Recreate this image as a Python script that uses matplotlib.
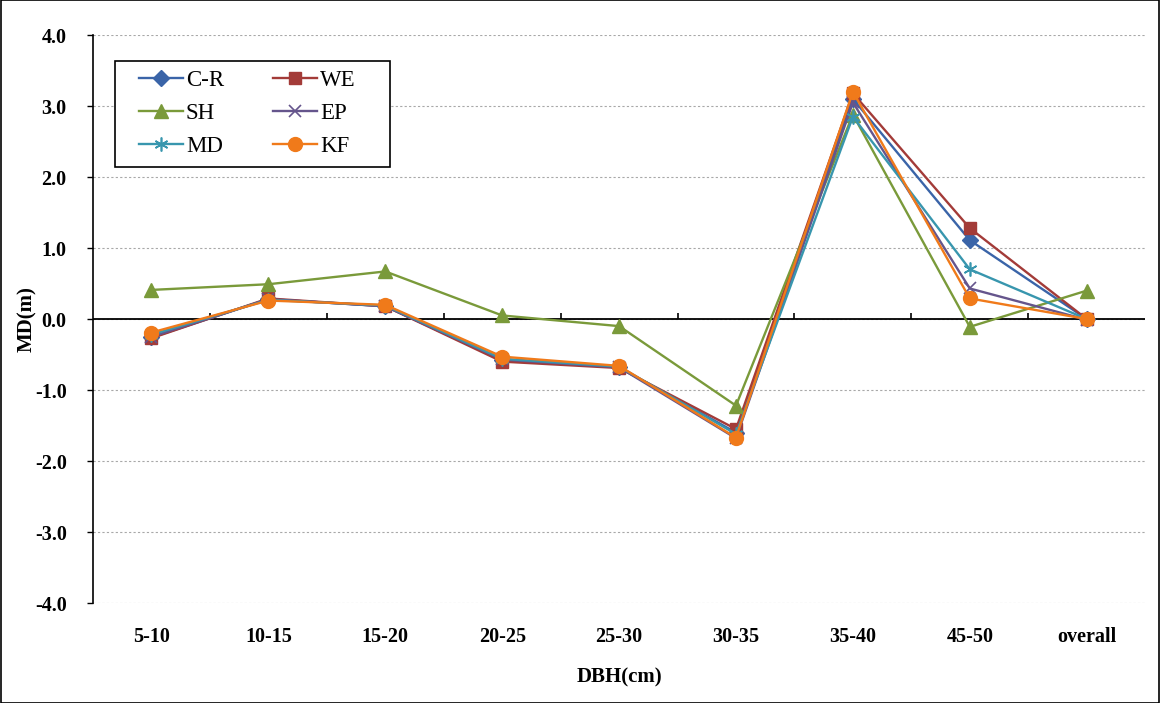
import matplotlib
matplotlib.use("Agg")
import matplotlib.pyplot as plt
from matplotlib.patches import Rectangle
import numpy as np

categories = ["5-10", "10-15", "15-20", "20-25", "25-30", "30-35", "35-40", "45-50", "overall"]
cr = [-0.26, 0.28, 0.18, -0.58, -0.68, -1.60, 3.10, 1.11, 0.0]
we = [-0.27, 0.29, 0.18, -0.60, -0.69, -1.55, 3.18, 1.28, 0.0]
sh = [0.41, 0.49, 0.67, 0.05, -0.10, -1.22, 2.88, -0.11, 0.40]
ep = [-0.25, 0.28, 0.18, -0.57, -0.68, -1.68, 3.05, 0.43, -0.01]
md = [-0.22, 0.27, 0.19, -0.56, -0.67, -1.62, 2.85, 0.70, 0.0]
kf = [-0.19, 0.26, 0.20, -0.53, -0.66, -1.67, 3.20, 0.29, 0.0]
yticks = [-4.0, -3.0, -2.0, -1.0, 0.0, 1.0, 2.0, 3.0, 4.0]

plt.rcParams['font.family'] = ['Liberation Serif', 'DejaVu Serif']

fig = plt.figure(figsize=(11.6, 7.03), dpi=100)
fig.patches.append(Rectangle((0.0005, 0.0007), 0.999, 0.9986, transform=fig.transFigure,
                             fill=False, edgecolor='black', linewidth=1.2))
ax = fig.add_axes([0.0802, 0.1422, 0.907, 0.808])

x = np.arange(len(categories))
series = [
    ("C-R", cr, "#3A64A8", "D", 8),
    ("WE", we, "#A33B38", "s", 8),
    ("SH", sh, "#7A9A3A", "^", 10),
    ("EP", ep, "#65558C", "x", 9),
    ("MD", md, "#3896AE", (6, 2, 0), 10),
    ("KF", kf, "#F07A1A", "o", 10),
]
handles = {}
for name, vals, col, mk, ms in series:
    if mk == "x" or isinstance(mk, tuple):
        h, = ax.plot(x, vals, color=col, marker=mk, markersize=ms, linewidth=1.7,
                     markeredgewidth=1.2, label=name)
    else:
        h, = ax.plot(x, vals, color=col, marker=mk, markersize=ms, linewidth=1.7,
                     markeredgecolor=col, label=name)
    handles[name] = h

ax.set_xlim(-0.5, len(categories) - 0.5)
ax.set_ylim(-4, 4)
ax.set_yticks(yticks)
ax.set_yticklabels([f"{v:.1f}" for v in yticks], fontsize=14.5, fontweight='bold')
ax.yaxis.grid(True, linestyle=(0, (2, 2)), color='#a8a8a8', linewidth=0.8)
ax.set_axisbelow(True)
ax.set_xticks(x)
ax.set_xticklabels(categories, fontsize=14.5, fontweight='bold')
ax.tick_params(axis='x', length=0, pad=17)
ax.tick_params(axis='y', length=4, width=1, direction='out', pad=15)

for s in ("top", "right", "bottom"):
    ax.spines[s].set_visible(False)
ax.spines["left"].set_linewidth(1.2)
ax.axhline(0, color='black', linewidth=1.3, zorder=1.5)
bounds = np.arange(len(categories) + 1) - 0.5
ax.vlines(bounds[1:-1], 0, 0.09, color='black', linewidth=1.2, zorder=1.5)

ax.set_xlabel("DBH(cm)", fontsize=15, fontweight='bold', labelpad=15)
ax.set_ylabel("MD(m)", fontsize=15, fontweight='bold', labelpad=-2)

# matplotlib fills legend columns first, so arrange for row-wise reading
col_order = ["C-R", "SH", "MD", "WE", "EP", "KF"]
leg = ax.legend([handles[n] for n in col_order], col_order, ncol=2, loc='upper left',
                bbox_to_anchor=(0.0437, 0.938), fontsize=16.5,
                frameon=False, borderpad=0,
                handlelength=1.9, columnspacing=2.15, labelspacing=0.52, handletextpad=0.15,
                borderaxespad=0)
ax.add_patch(Rectangle((0.0209, 0.768), 0.2614, 0.186, transform=ax.transAxes,
                       fill=True, facecolor='white', edgecolor='black', linewidth=1.2,
                       zorder=4))
leg.set_zorder(5)

fig.savefig("out.png", dpi=100)
